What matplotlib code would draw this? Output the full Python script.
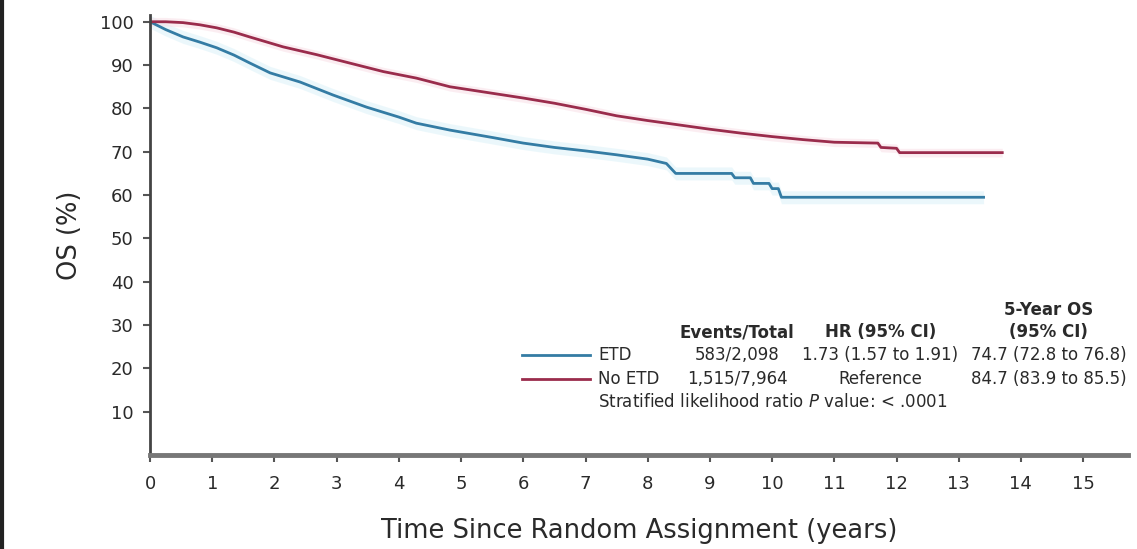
import matplotlib
matplotlib.use("Agg")
import matplotlib.pyplot as plt
from matplotlib.lines import Line2D

plt.rcParams["font.family"] = ["DejaVu Sans"]

# --- data (years, OS %) ---
t_etd = [0, 0.25, 0.53, 0.8, 1.07, 1.35, 1.6, 1.93, 2.41, 2.94, 3.48, 4.0, 4.28,
         4.82, 5.5, 6.0, 6.5, 7.0, 7.5, 8.0, 8.3, 8.45, 9.35, 9.4, 9.65, 9.7,
         9.95, 10.0, 10.1, 10.15, 13.4]
os_etd = [100, 98.2, 96.5, 95.3, 94.0, 92.3, 90.5, 88.2, 86.1, 83.1, 80.3, 78.0,
          76.6, 75.0, 73.3, 72.0, 71.0, 70.2, 69.3, 68.3, 67.3, 65.0, 65.0, 64.0,
          64.0, 62.7, 62.7, 61.5, 61.5, 59.5, 59.5]

t_no = [0, 0.25, 0.53, 0.8, 1.07, 1.35, 1.6, 2.14, 2.68, 3.2, 3.75, 4.28, 4.82,
        5.5, 6.0, 6.5, 7.0, 7.5, 8.0, 8.5, 9.0, 9.5, 10.0, 10.5, 11.0, 11.7,
        11.75, 12.0, 12.05, 13.7]
os_no = [100, 100, 99.8, 99.3, 98.6, 97.6, 96.5, 94.2, 92.4, 90.5, 88.5, 87.0,
         85.0, 83.5, 82.4, 81.2, 79.8, 78.3, 77.2, 76.2, 75.2, 74.3, 73.5, 72.8,
         72.2, 72.0, 71.0, 70.8, 69.8, 69.8]

groups = ["ETD", "No ETD"]
events = ["583/2,098", "1,515/7,964"]
hrs = ["1.73 (1.57 to 1.91)", "Reference"]
os5 = ["74.7 (72.8 to 76.8)", "84.7 (83.9 to 85.5)"]

x_ticks = list(range(0, 16))
y_ticks = list(range(10, 101, 10))

c_etd = "#347ca4"
c_no = "#9a2c4c"
txt = "#2a2a2a"

fig = plt.figure(figsize=(11.37, 5.49), dpi=100)
ax = fig.add_axes([0.132, 0.171, 0.860, 0.802])

# faint confidence halos
ax.fill_between(t_etd, [v - 1.5 for v in os_etd], [v + 1.5 for v in os_etd],
                color="#d9f1f8", alpha=0.5, lw=0)
ax.fill_between(t_no, [v - 1.0 for v in os_no], [v + 1.0 for v in os_no],
                color="#f8dde5", alpha=0.5, lw=0)

ax.plot(t_etd, os_etd, color=c_etd, lw=2.0)
ax.plot(t_no, os_no, color=c_no, lw=2.0)

ax.set_xlim(0, 15.72)
ax.set_ylim(0, 101.6)
ax.set_xticks(x_ticks)
ax.set_yticks(y_ticks)
ax.tick_params(axis="both", colors="#555555", labelcolor=txt, labelsize=13,
               length=5, width=1.5, direction="out")
ax.tick_params(axis="x", pad=9)
ax.tick_params(axis="y", pad=7)

for s in ["top", "right"]:
    ax.spines[s].set_visible(False)
ax.spines["left"].set_color("#444444")
ax.spines["left"].set_linewidth(2)
ax.spines["bottom"].set_color("#777777")
ax.spines["bottom"].set_linewidth(3.5)

ax.set_xlabel("Time Since Random Assignment (years)", fontsize=18.5, color=txt,
              labelpad=18)
ax.set_ylabel("OS (%)", fontsize=18.5, color=txt, labelpad=12)

# --- legend table (data coords) ---
fs = 12
c_ev, c_hr, c_os = 9.44, 11.74, 14.45
ax.text(c_os, 33.4, "5-Year OS", ha="center", va="center", fontsize=fs,
        fontweight="bold", color=txt)
ax.text(c_os, 28.3, "(95% CI)", ha="center", va="center", fontsize=fs,
        fontweight="bold", color=txt)
ax.text(c_ev, 28.3, "Events/Total", ha="center", va="center", fontsize=fs,
        fontweight="bold", color=txt)
ax.text(c_hr, 28.3, "HR (95% CI)", ha="center", va="center", fontsize=fs,
        fontweight="bold", color=txt)

row_y = [23.0, 17.6]
for i, (g, c) in enumerate(zip(groups, [c_etd, c_no])):
    y = row_y[i]
    ax.plot([5.98, 7.07], [y, y], color=c, lw=2.0)
    ax.text(7.2, y, g, ha="left", va="center", fontsize=fs, color=txt)
    ax.text(c_ev, y, events[i], ha="center", va="center", fontsize=fs, color=txt)
    ax.text(c_hr, y, hrs[i], ha="center", va="center", fontsize=fs, color=txt)
    ax.text(c_os, y, os5[i], ha="center", va="center", fontsize=fs, color=txt)

ax.text(7.2, 12.2, r"Stratified likelihood ratio $\it{P}$ value: < .0001",
        ha="left", va="center", fontsize=fs, color=txt)

# left border line of the original figure
fig.add_artist(Line2D([0.002, 0.002], [0, 1], color="#222222", lw=3,
                      transform=fig.transFigure))

fig.savefig("out.png", dpi=100, facecolor="white")
